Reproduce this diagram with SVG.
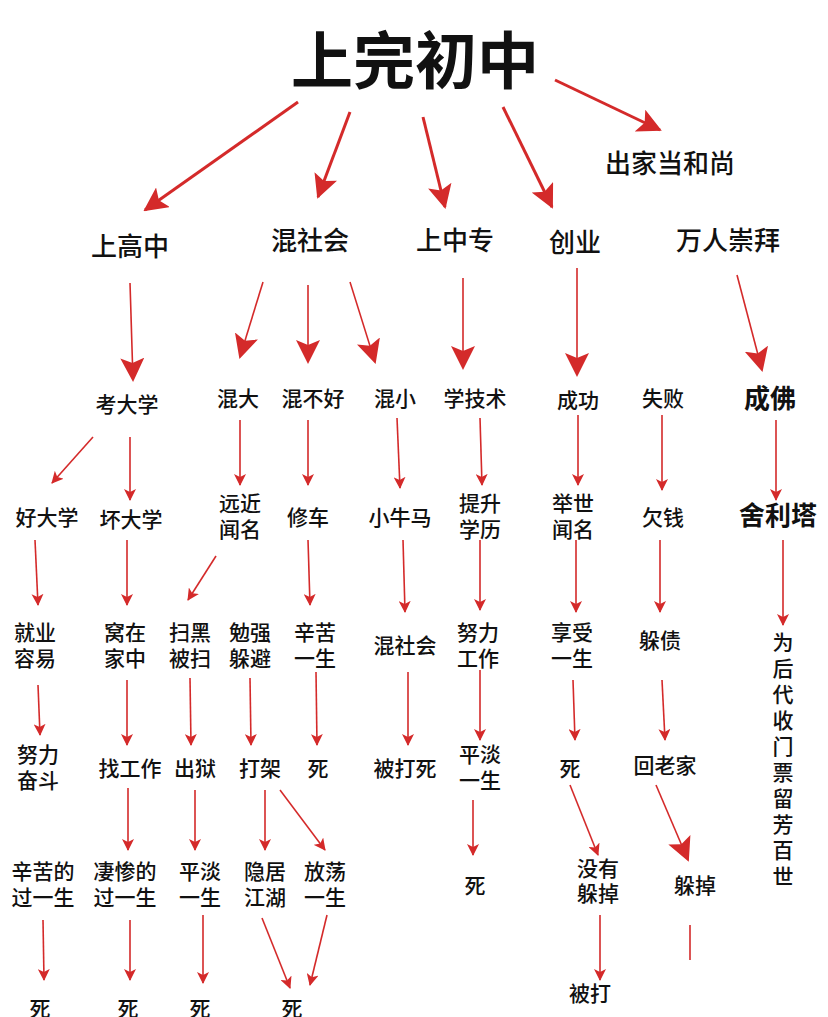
<svg xmlns="http://www.w3.org/2000/svg" width="828" height="1017" viewBox="0 0 828 1017">
<defs>
<marker id="a" markerWidth="12" markerHeight="12" refX="11" refY="6" orient="auto" markerUnits="userSpaceOnUse"><path d="M0,0 L12,6 L0,12 L3,6 Z" fill="#d42a2a"/></marker>
<marker id="b" markerWidth="24" markerHeight="24" refX="22" refY="12" orient="auto" markerUnits="userSpaceOnUse"><path d="M0,0 L24,12 L0,24 L5,12 Z" fill="#d42a2a"/></marker>
</defs>
<style>
text{font-family:"Noto Sans CJK SC","Noto Sans",sans-serif;fill:#111;text-anchor:middle;font-weight:500}
.t{font-size:62px;font-weight:700}
.l1{font-size:26px}
.n{font-size:21px}
.big{font-size:26px;font-weight:700}
line{stroke:#d42a2a;stroke-width:1.6}
.w{stroke-width:3}
</style>
<rect width="828" height="1017" fill="#fff"/>
<g id="connectors">
<line class="w" x1="298" y1="102" x2="145" y2="210" marker-end="url(#b)"/>
<line class="w" x1="350" y1="112" x2="318" y2="197" marker-end="url(#b)"/>
<line class="w" x1="423" y1="117" x2="445" y2="207" marker-end="url(#b)"/>
<line class="w" x1="503" y1="107" x2="552" y2="207" marker-end="url(#b)"/>
<line class="w" x1="555" y1="80" x2="660" y2="130" marker-end="url(#b)"/>
<line x1="130" y1="283" x2="133" y2="380" marker-end="url(#b)"/>
<line x1="263" y1="282" x2="240" y2="357" marker-end="url(#b)"/>
<line x1="308" y1="285" x2="308" y2="362" marker-end="url(#b)"/>
<line x1="350" y1="282" x2="375" y2="362" marker-end="url(#b)"/>
<line x1="463" y1="278" x2="463" y2="368" marker-end="url(#b)"/>
<line x1="577" y1="268" x2="577" y2="375" marker-end="url(#b)"/>
<line x1="737" y1="275" x2="762" y2="370" marker-end="url(#b)"/>
<line x1="93" y1="437" x2="52" y2="483" marker-end="url(#a)"/>
<line x1="130" y1="437" x2="130" y2="500" marker-end="url(#a)"/>
<line x1="240" y1="420" x2="240" y2="485" marker-end="url(#a)"/>
<line x1="308" y1="420" x2="308" y2="485" marker-end="url(#a)"/>
<line x1="397" y1="418" x2="400" y2="488" marker-end="url(#a)"/>
<line x1="480" y1="418" x2="482" y2="485" marker-end="url(#a)"/>
<line x1="578" y1="415" x2="578" y2="485" marker-end="url(#a)"/>
<line x1="662" y1="415" x2="662" y2="490" marker-end="url(#a)"/>
<line x1="776" y1="420" x2="776" y2="500" marker-end="url(#a)"/>
<line x1="35" y1="540" x2="38" y2="605" marker-end="url(#a)"/>
<line x1="127" y1="540" x2="127" y2="605" marker-end="url(#a)"/>
<line x1="216" y1="556" x2="188" y2="600" marker-end="url(#a)"/>
<line x1="308" y1="540" x2="310" y2="605" marker-end="url(#a)"/>
<line x1="403" y1="540" x2="405" y2="612" marker-end="url(#a)"/>
<line x1="480" y1="540" x2="480" y2="610" marker-end="url(#a)"/>
<line x1="576" y1="540" x2="576" y2="612" marker-end="url(#a)"/>
<line x1="660" y1="540" x2="660" y2="612" marker-end="url(#a)"/>
<line x1="783" y1="540" x2="783" y2="625" marker-end="url(#a)"/>
<line x1="38" y1="685" x2="40" y2="735" marker-end="url(#a)"/>
<line x1="127" y1="680" x2="127" y2="745" marker-end="url(#a)"/>
<line x1="190" y1="678" x2="191" y2="745" marker-end="url(#a)"/>
<line x1="250" y1="678" x2="251" y2="745" marker-end="url(#a)"/>
<line x1="316" y1="672" x2="317" y2="745" marker-end="url(#a)"/>
<line x1="408" y1="672" x2="408" y2="745" marker-end="url(#a)"/>
<line x1="480" y1="670" x2="480" y2="740" marker-end="url(#a)"/>
<line x1="573" y1="680" x2="575" y2="740" marker-end="url(#a)"/>
<line x1="662" y1="680" x2="665" y2="740" marker-end="url(#a)"/>
<line x1="128" y1="788" x2="128" y2="850" marker-end="url(#a)"/>
<line x1="195" y1="790" x2="195" y2="850" marker-end="url(#a)"/>
<line x1="265" y1="790" x2="265" y2="850" marker-end="url(#a)"/>
<line x1="280" y1="790" x2="325" y2="850" marker-end="url(#a)"/>
<line x1="473" y1="800" x2="473" y2="855" marker-end="url(#a)"/>
<line x1="570" y1="785" x2="598" y2="855" marker-end="url(#a)"/>
<line x1="656" y1="785" x2="688" y2="860" marker-end="url(#b)"/>
<line x1="43" y1="920" x2="44" y2="980" marker-end="url(#a)"/>
<line x1="130" y1="920" x2="130" y2="980" marker-end="url(#a)"/>
<line x1="203" y1="915" x2="203" y2="983" marker-end="url(#a)"/>
<line x1="262" y1="918" x2="290" y2="988" marker-end="url(#a)"/>
<line x1="327" y1="915" x2="310" y2="985" marker-end="url(#a)"/>
<line x1="600" y1="915" x2="600" y2="980" marker-end="url(#a)"/>
<line x1="690" y1="925" x2="690" y2="960"/>
</g>
<g id="n0"><text class="t" x="415" y="84">上完初中</text></g>
<g id="n1"><text class="l1" x="670" y="173">出家当和尚</text></g>
<g id="n2"><text class="l1" x="130" y="256">上高中</text></g>
<g id="n3"><text class="l1" x="310" y="250">混社会</text></g>
<g id="n4"><text class="l1" x="455" y="250">上中专</text></g>
<g id="n5"><text class="l1" x="575" y="252">创业</text></g>
<g id="n6"><text class="l1" x="728" y="250">万人崇拜</text></g>
<g id="n7"><text class="n" x="127" y="412">考大学</text></g>
<g id="n8"><text class="n" x="238" y="406">混大</text></g>
<g id="n9"><text class="n" x="313" y="406">混不好</text></g>
<g id="n10"><text class="n" x="395" y="406">混小</text></g>
<g id="n11"><text class="n" x="475" y="406">学技术</text></g>
<g id="n12"><text class="n" x="578" y="408">成功</text></g>
<g id="n13"><text class="n" x="663" y="406">失败</text></g>
<g id="n14"><text class="big" x="770" y="408">成佛</text></g>
<g id="n15"><text class="n" x="47" y="525">好大学</text></g>
<g id="n16"><text class="n" x="131" y="527">坏大学</text></g>
<g id="n17"><text class="n" x="240" y="511">远近</text><text class="n" x="240" y="537">闻名</text></g>
<g id="n18"><text class="n" x="308" y="525">修车</text></g>
<g id="n19"><text class="n" x="400" y="525">小牛马</text></g>
<g id="n20"><text class="n" x="480" y="511">提升</text><text class="n" x="480" y="537">学历</text></g>
<g id="n21"><text class="n" x="573" y="511">举世</text><text class="n" x="573" y="537">闻名</text></g>
<g id="n22"><text class="n" x="663" y="525">欠钱</text></g>
<g id="n23"><text class="big" x="778" y="525">舍利塔</text></g>
<g id="n24"><text class="n" x="35" y="640">就业</text><text class="n" x="35" y="666">容易</text></g>
<g id="n25"><text class="n" x="125" y="640">窝在</text><text class="n" x="125" y="666">家中</text></g>
<g id="n26"><text class="n" x="190" y="640">扫黑</text><text class="n" x="190" y="666">被扫</text></g>
<g id="n27"><text class="n" x="250" y="640">勉强</text><text class="n" x="250" y="666">躲避</text></g>
<g id="n28"><text class="n" x="315" y="640">辛苦</text><text class="n" x="315" y="666">一生</text></g>
<g id="n29"><text class="n" x="405" y="653">混社会</text></g>
<g id="n30"><text class="n" x="478" y="640">努力</text><text class="n" x="478" y="666">工作</text></g>
<g id="n31"><text class="n" x="572" y="640">享受</text><text class="n" x="572" y="666">一生</text></g>
<g id="n32"><text class="n" x="660" y="648">躲债</text></g>
<g id="n33"><text class="n" x="783" y="650">为</text><text class="n" x="783" y="676">后</text><text class="n" x="783" y="702">代</text><text class="n" x="783" y="728">收</text><text class="n" x="783" y="754">门</text><text class="n" x="783" y="780">票</text><text class="n" x="783" y="806">留</text><text class="n" x="783" y="832">芳</text><text class="n" x="783" y="858">百</text><text class="n" x="783" y="884">世</text></g>
<g id="n34"><text class="n" x="38" y="762">努力</text><text class="n" x="38" y="788">奋斗</text></g>
<g id="n35"><text class="n" x="130" y="776">找工作</text></g>
<g id="n36"><text class="n" x="195" y="776">出狱</text></g>
<g id="n37"><text class="n" x="260" y="776">打架</text></g>
<g id="n38"><text class="n" x="318" y="776">死</text></g>
<g id="n39"><text class="n" x="405" y="776">被打死</text></g>
<g id="n40"><text class="n" x="480" y="762">平淡</text><text class="n" x="480" y="788">一生</text></g>
<g id="n41"><text class="n" x="570" y="776">死</text></g>
<g id="n42"><text class="n" x="665" y="773">回老家</text></g>
<g id="n43"><text class="n" x="43" y="879">辛苦的</text><text class="n" x="43" y="905">过一生</text></g>
<g id="n44"><text class="n" x="125" y="879">凄惨的</text><text class="n" x="125" y="905">过一生</text></g>
<g id="n45"><text class="n" x="200" y="879">平淡</text><text class="n" x="200" y="905">一生</text></g>
<g id="n46"><text class="n" x="265" y="879">隐居</text><text class="n" x="265" y="905">江湖</text></g>
<g id="n47"><text class="n" x="325" y="879">放荡</text><text class="n" x="325" y="905">一生</text></g>
<g id="n48"><text class="n" x="475" y="893">死</text></g>
<g id="n49"><text class="n" x="598" y="876">没有</text><text class="n" x="598" y="901">躲掉</text></g>
<g id="n50"><text class="n" x="695" y="893">躲掉</text></g>
<g id="n51"><text class="n" x="40" y="1016">死</text></g>
<g id="n52"><text class="n" x="128" y="1016">死</text></g>
<g id="n53"><text class="n" x="200" y="1016">死</text></g>
<g id="n54"><text class="n" x="292" y="1016">死</text></g>
<g id="n55"><text class="n" x="590" y="1001">被打</text></g>
</svg>
